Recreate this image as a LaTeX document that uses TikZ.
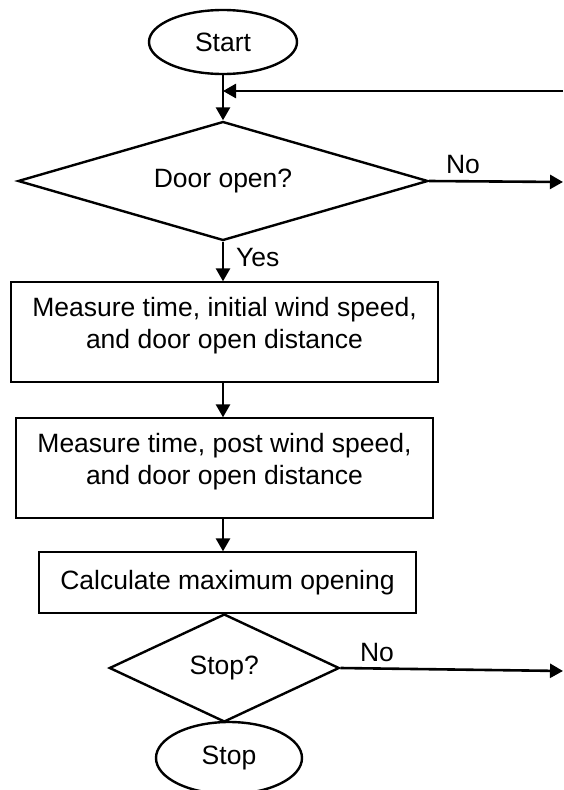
\documentclass[tikz,border=0pt]{standalone}
\usepackage{fontspec}
\setmainfont{Liberation Sans}
\usetikzlibrary{shapes.geometric,arrows.meta}
\begin{document}
\begin{tikzpicture}[x=1pt,y=-1pt,
  every node/.style={font=\fontsize{26.5}{32}\selectfont},
  term/.style={ellipse,draw,line width=2.4pt,inner sep=0pt},
  decide/.style={diamond,draw,line width=2.4pt,inner sep=0pt},
  procbox/.style={rectangle,draw,line width=1.3pt,inner sep=0pt,align=center},
  flow/.style={line width=2.6pt,-{Triangle[length=13pt,width=14pt]}},
  lbl/.style={inner sep=0pt}]
\useasboundingbox (0,0) rectangle (563,790);
\node[term,minimum width=148pt,minimum height=64pt] (start) at (223,42) {Start};
\node[decide,aspect=3.45,minimum width=410pt,minimum height=119pt] (d1) at (223,181) {Door open?};
\node[procbox,minimum width=427pt,minimum height=100pt] (b1) at (224.5,332)
  {Measure time, initial wind speed,\\and door open distance\\[-13pt]\mbox{}};
\node[procbox,minimum width=417pt,minimum height=100pt] (b2) at (224.5,468)
  {Measure time, post wind speed,\\and door open distance\\[-13pt]\mbox{}};
\node[procbox,minimum width=377pt,minimum height=61pt] (b3) at (227.5,582.5)
  {Calculate maximum opening};
\node[decide,aspect=2.13,minimum width=230pt,minimum height=108pt] (d2) at (224.3,668) {Stop?};
\node[term,minimum width=146pt,minimum height=72pt] (stop) at (229,758) {Stop};
\node[lbl] (no1) at (463,165) {No};
\node[lbl,anchor=west] (yes) at (236,258) {Yes};
\node[lbl] (no2) at (377,653) {No};
\coordinate (fb) at (563,91);
\coordinate (out1) at (563,182);
\coordinate (out2) at (563,671);
\draw[flow] (start.south) -- (d1.north);
\draw[flow] (fb) -- (fb -| start.south);
\draw[flow] (d1.east) -- (out1);
\draw[flow] (d1.south) -- (d1.south |- b1.north);
\draw[flow] (b1.south -| d1.south) -- (d1.south |- b2.north);
\draw[flow] (b2.south -| d1.south) -- (d1.south |- b3.north);
\draw[flow] (d2.east) -- (out2);
\end{tikzpicture}
\end{document}
